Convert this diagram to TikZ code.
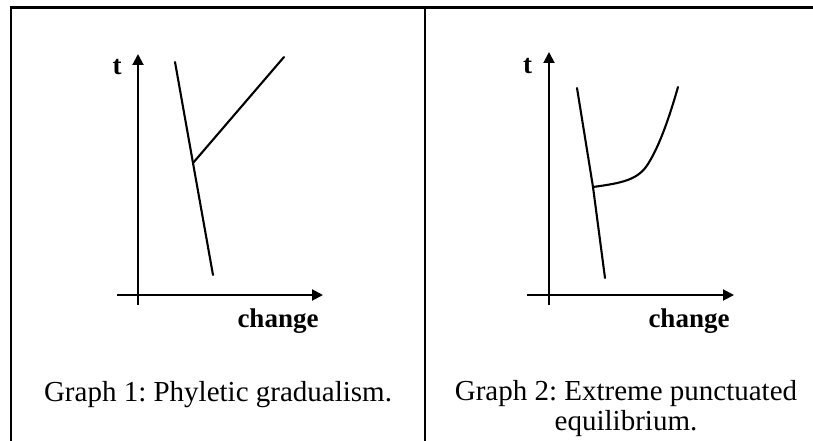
\documentclass[tikz,border=0pt]{standalone}
\usepackage{fontspec}
\setmainfont{Liberation Serif}
\usetikzlibrary{arrows.meta}
\frenchspacing
\begin{document}
\begin{tikzpicture}[x=1pt,y=-1pt,
  frame/.style={line width=2.2pt},
  axis/.style={line width=2pt,-{Triangle[length=11pt,width=11pt]}},
  curve/.style={line width=2.1pt,line cap=round,line join=round},
  axlabel/.style={font=\fontsize{27}{27}\selectfont\bfseries,inner sep=0pt},
  caption/.style={font=\fontsize{29}{29.5}\selectfont,inner sep=0pt,align=center}]
\useasboundingbox (0,0) rectangle (813,441);
\fill[white] (0,0) rectangle (813,441);
% table frame
\coordinate (tl) at (11,7.5);
\coordinate (tr) at (813,7.5);
\coordinate (bl) at (11,441);
\coordinate (mt) at (425,7.5);
\coordinate (mb) at (425,441);
\draw[frame] (bl) -- (tl) -- (tr);
\draw[frame] (mt) -- (mb);
% ---------- Graph 1 ----------
\coordinate (y1s) at (138,305);
\coordinate (y1e) at (138,54);
\coordinate (x1s) at (117,295);
\coordinate (x1e) at (323,295);
\draw[axis] (y1s) -- (y1e);
\draw[axis] (x1s) -- (x1e);
\node[axlabel,anchor=base] (t1) at (117,75) {t};
\node[axlabel,anchor=base] (c1) at (278,327) {change};
\coordinate (a1) at (175,62);
\coordinate (j1) at (193,163);
\coordinate (b1) at (213,275);
\coordinate (e1) at (284,57);
\draw[curve] (a1) -- (j1) -- (b1);
\draw[curve] (j1) -- (e1);
\node[caption,anchor=base] (cap1) at (218,401) {Graph 1: Phyletic gradualism.};
% ---------- Graph 2 ----------
\coordinate (y2s) at (549,305);
\coordinate (y2e) at (549,52);
\coordinate (x2s) at (527,295);
\coordinate (x2e) at (734,295);
\draw[axis] (y2s) -- (y2e);
\draw[axis] (x2s) -- (x2e);
\node[axlabel,anchor=base] (t2) at (527.5,74) {t};
\node[axlabel,anchor=base] (c2) at (689,327) {change};
\coordinate (a2) at (577,88);
\coordinate (j2) at (593,187);
\coordinate (b2) at (605,278);
\coordinate (e2) at (678,87);
\draw[curve] (a2) -- (j2) -- (b2);
\draw[curve] (j2) .. controls (622,183) and (638,180) .. (648,164)
  .. controls (660,145) and (670,115) .. (e2);
\node[caption,anchor=base] (cap2) at (626,430) {Graph 2: Extreme punctuated\\equilibrium.};
\end{tikzpicture}
\end{document}
